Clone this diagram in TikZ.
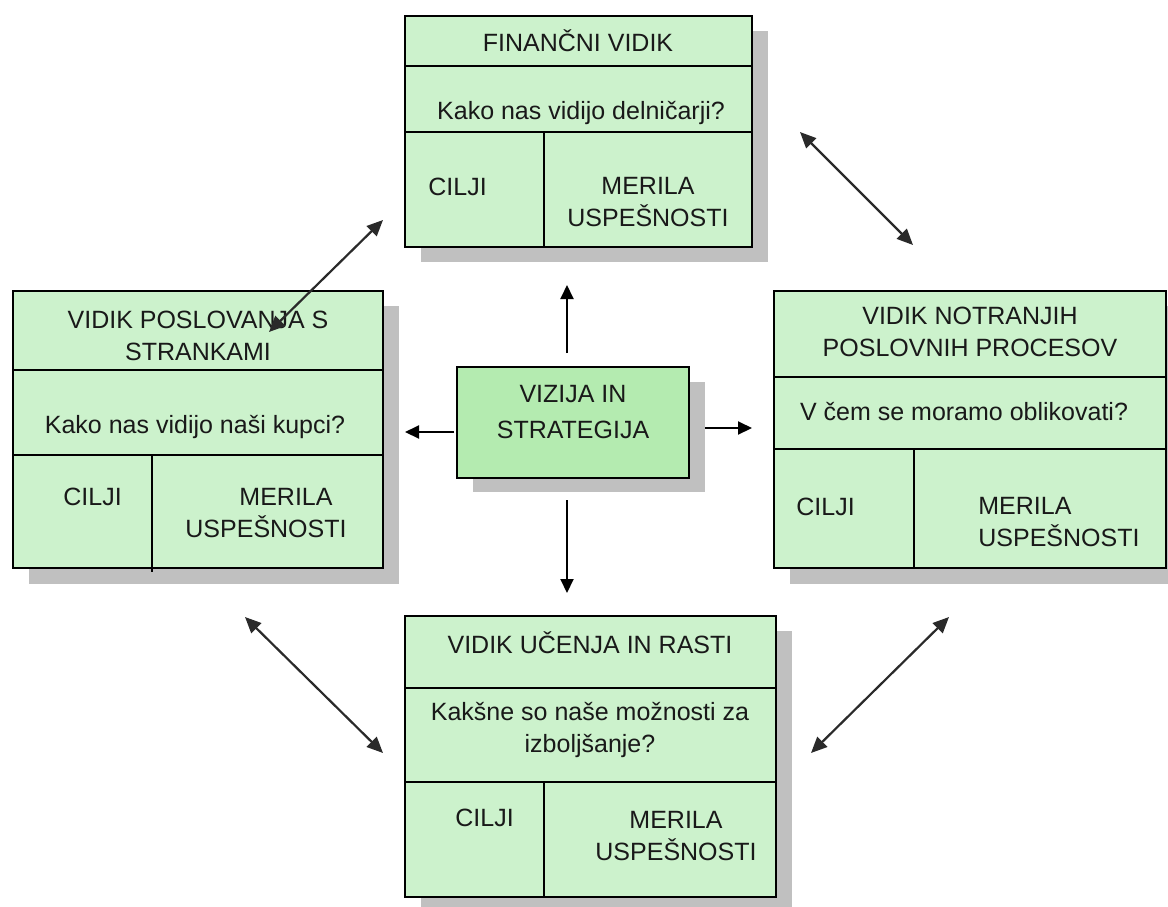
\documentclass[tikz,border=0pt]{standalone}
\usepackage{fontspec}
\setmainfont{Liberation Sans}
\usetikzlibrary{arrows.meta}
\definecolor{panelfill}{HTML}{CCF2CC}
\definecolor{corefill}{HTML}{B4EBB0}
\definecolor{shade}{HTML}{C0C0C0}
\definecolor{inkgray}{HTML}{2A2A2A}
\tikzset{
  shadowbox/.style={fill=shade, draw=none},
  panel/.style={fill=panelfill, draw=black, line width=1pt},
  corebox/.style={fill=corefill, draw=black, line width=1pt},
  divider/.style={draw=black, line width=1pt},
  lbl/.style={font=\fontsize{12.5}{16}\selectfont, inner sep=0pt, align=center, text=black!90},
  link/.style={draw=inkgray, line width=1.1pt,
    {Triangle[length=8pt,width=7pt]}-{Triangle[length=8pt,width=7pt]}},
  ray/.style={draw=black, line width=1pt, -{Triangle[length=7pt,width=6.5pt]}},
}
\begin{document}
\begin{tikzpicture}[x=0.5pt,y=-0.5pt]
\path[use as bounding box] (0,0) rectangle (1168,906);

% ---------- shadows ----------
\fill[shadowbox] (421,31) rectangle (768,262);
\fill[shadowbox] (29,306) rectangle (399,584);
\fill[shadowbox] (790,306) rectangle (1182,584);
\fill[shadowbox] (421,631) rectangle (792,912);
\fill[shadowbox] (473,382) rectangle (705,492);

% ---------- financial perspective (top) ----------
\draw[panel] (405,16) rectangle (752,247);
\draw[divider] (405,66) -- (752,66);
\draw[divider] (405,132) -- (752,132);
\draw[divider] (544,132) -- (544,247);
\node[lbl] (finT) at (578,41) {FINANČNI VIDIK};
\node[lbl] (finQ) at (581,113) {Kako nas vidijo delničarji?};
\node[lbl, anchor=west] (finC) at (428,187) {CILJI};
\node[lbl] (finM) at (648,202) {MERILA\\USPEŠNOSTI};

% ---------- customer perspective (left) ----------
\draw[panel] (13,291) rectangle (383,568);
\draw[divider] (13,370) -- (383,370);
\draw[divider] (13,455) -- (383,455);
\draw[divider] (152,455) -- (152,572);
\node[lbl] (cusT) at (198,336) {VIDIK POSLOVANJA S\\STRANKAMI};
\node[lbl] (cusQ) at (195,427) {Kako nas vidijo naši kupci?};
\node[lbl, anchor=west] (cusC) at (63,497) {CILJI};
\node[lbl] (cusM) at (266,513) {\hspace*{20pt}MERILA\\USPEŠNOSTI};

% ---------- internal processes (right) ----------
\draw[panel] (774,291) rectangle (1166,568);
\draw[divider] (774,377) -- (1166,377);
\draw[divider] (774,449) -- (1166,449);
\draw[divider] (914,449) -- (914,568);
\node[lbl] (proT) at (970,332) {VIDIK NOTRANJIH\\POSLOVNIH PROCESOV};
\node[lbl] (proQ) at (964,412) {V čem se moramo oblikovati?};
\node[lbl, anchor=west] (proC) at (796,507) {CILJI};
\node[lbl, anchor=west, align=left] (proM) at (978,522) {MERILA\\USPEŠNOSTI};

% ---------- learning and growth (bottom) ----------
\draw[panel] (405,616) rectangle (776,897);
\draw[divider] (405,688) -- (776,688);
\draw[divider] (405,782) -- (776,782);
\draw[divider] (544,782) -- (544,897);
\node[lbl] (lrnT) at (590,643) {VIDIK UČENJA IN RASTI};
\node[lbl] (lrnQ) at (590,730) {Kakšne so naše možnosti za\\izboljšanje?};
\node[lbl, anchor=west] (lrnC) at (455,818) {CILJI};
\node[lbl] (lrnM) at (676,836) {MERILA\\USPEŠNOSTI};

% ---------- vision and strategy (centre) ----------
\draw[corebox] (457,367) rectangle (689,478);
\node[lbl, font=\fontsize{12.5}{18}\selectfont] (core) at (573,412) {VIZIJA IN\\STRATEGIJA};

% ---------- arrows out of the centre ----------
\coordinate (upS) at (567,353);   \coordinate (upE) at (567,285);
\coordinate (dnS) at (567,500);   \coordinate (dnE) at (567,593);
\coordinate (rtS) at (705,428);   \coordinate (rtE) at (752,428);
\coordinate (ltS) at (454,432);   \coordinate (ltE) at (405,432);
\draw[ray] (upS) -- (upE);
\draw[ray] (dnS) -- (dnE);
\draw[ray] (rtS) -- (rtE);
\draw[ray] (ltS) -- (ltE);

% ---------- links between the perspectives ----------
\coordinate (tlA) at (269,332);   \coordinate (tlB) at (383,220);
\coordinate (trA) at (800,132);   \coordinate (trB) at (913,245);
\coordinate (blA) at (245,617);   \coordinate (blB) at (383,753);
\coordinate (brA) at (811,753);   \coordinate (brB) at (949,617);
\draw[link] (tlA) -- (tlB);
\draw[link] (trA) -- (trB);
\draw[link] (blA) -- (blB);
\draw[link] (brA) -- (brB);
\end{tikzpicture}
\end{document}
